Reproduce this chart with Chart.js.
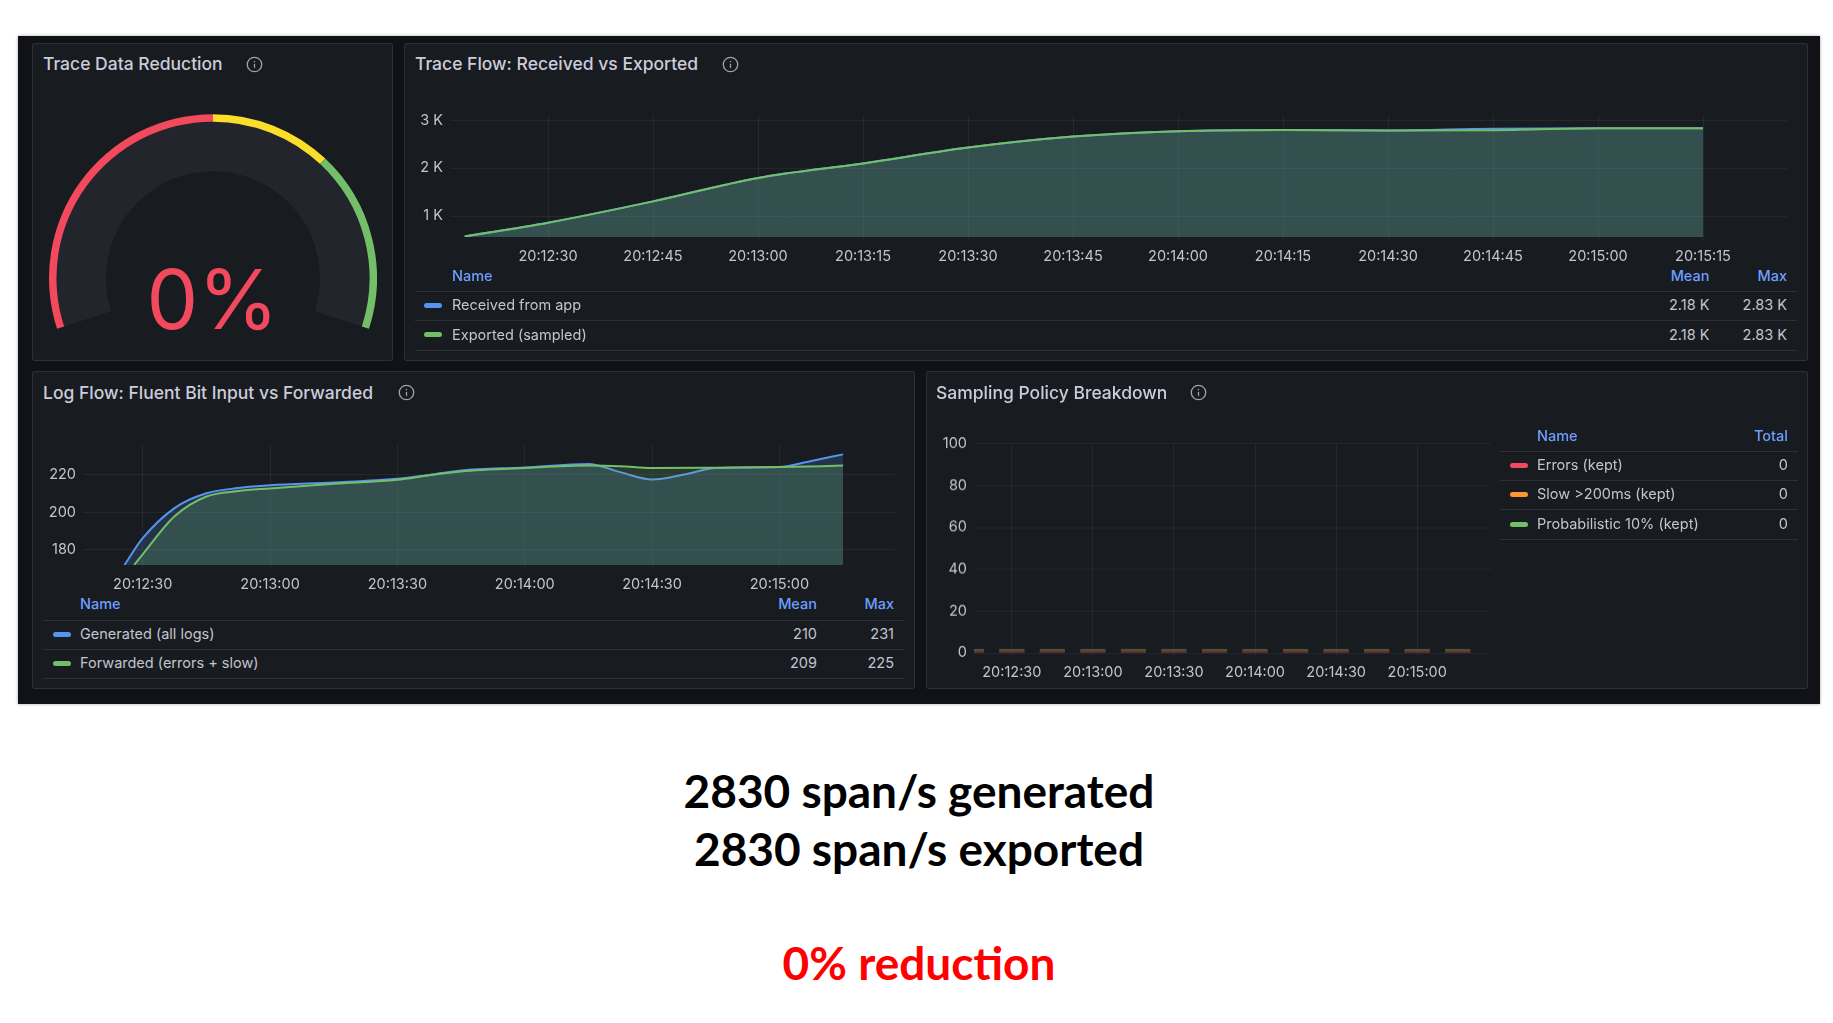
<!DOCTYPE html>
<html>
<head>
<meta charset="utf-8">
<title>Collector dashboard</title>
<script src="https://cdn.jsdelivr.net/npm/chart.js@4/dist/chart.umd.min.js"></script>
<style>
	html, body { margin: 0; padding: 0; background: #fff; width: 1833px; height: 1023px; overflow: hidden; }
	body { position: relative; font-family: Inter, "Noto Sans", sans-serif; }
	.board { position: absolute; left: 18px; top: 36px; width: 1802px; height: 668px; background: #111217; box-shadow: 0 0 3px rgba(0, 0, 0, .35); }
	.panel { position: absolute; box-sizing: border-box; background: #181b1f; border: 1px solid rgba(204, 204, 220, .12); border-radius: 3px; }
	.title { position: absolute; color: #ccccdc; font-size: 17.5px; font-weight: 500; line-height: 20px; white-space: nowrap; }
	.info { position: absolute; width: 17px; height: 17px; }
	canvas { position: absolute; }
	.legend-head, .legend-cell { position: absolute; font-size: 14.5px; line-height: 18px; white-space: nowrap; }
	.legend-head { color: #6e9fff; font-weight: 500; }
	.legend-cell { color: #c4c4d0; }
	.legend-rule { position: absolute; height: 1px; background: rgba(204, 204, 220, .12); }
	.legend-key { position: absolute; height: 5px; width: 18px; border-radius: 3px; }
	.gauge-value { position: absolute; left: 32px; width: 361px; top: 250px; text-align: center; color: #f2495c; font-size: 82px; line-height: 100px; }
	.caption { position: absolute; left: 0; width: 1838px; text-align: center; font-family: Lato, sans-serif; font-weight: 700; font-size: 46px; line-height: 56px; color: #000; }
</style>
</head>
<body>
<div class="board"></div>
<div id="panels"></div>
<div class="caption" id="caption-generated" style="top: 763px;"></div>
<div class="caption" id="caption-exported" style="top: 821px;"></div>
<div class="caption" id="caption-reduction" style="top: 935px; color: #ff0000;"></div>

<script>
// Series, seconds are counted from 20:12:30.
var traceSeconds = [ -11.9, 0, 15, 30, 45, 60, 75, 90, 105, 120, 135, 150, 165 ];
var traceReceived = [ 575, 860, 1305, 1794, 2098, 2428, 2657, 2771, 2797, 2784, 2822, 2830, 2830 ];
var traceExported = [ 575, 860, 1305, 1794, 2098, 2428, 2657, 2771, 2797, 2784, 2790, 2830, 2830 ];
var traceTickSeconds = [ 0, 15, 30, 45, 60, 75, 90, 105, 120, 135, 150, 165 ];
var traceTickLabels = [ '20:12:30', '20:12:45', '20:13:00', '20:13:15', '20:13:30', '20:13:45', '20:14:00', '20:14:15', '20:14:30', '20:14:45', '20:15:00', '20:15:15' ];
var traceYTicks = [ 1000, 2000, 3000 ];
var traceYLabels = [ '1 K', '2 K', '3 K' ];

var logGeneratedSeconds = [ -4.3, 0, 7.5, 15, 22.5, 30, 45, 60, 67.5, 75, 90, 105, 112.5, 120, 127.5, 135, 150, 157.5, 165 ];
var logGenerated = [ 171.9, 186.2, 202.3, 210.2, 213, 214.5, 216, 218, 220, 222.4, 224, 225.9, 221.5, 217.6, 220.2, 223.7, 224.2, 227.5, 231 ];
var logForwardedSeconds = [ -2, 0, 7.5, 15, 22.5, 30, 45, 60, 67.5, 75, 90, 105, 112.5, 120, 135, 150, 165 ];
var logForwarded = [ 172, 177.6, 197.9, 208.5, 211.4, 212.8, 215.3, 217.4, 219.8, 221.8, 223.7, 225, 224.7, 223.7, 223.9, 224.2, 225 ];
var logTickSeconds = [ 0, 30, 60, 90, 120, 150 ];
var logTickLabels = [ '20:12:30', '20:13:00', '20:13:30', '20:14:00', '20:14:30', '20:15:00' ];
var logYTicks = [ 180, 200, 220 ];

var samplingSeconds = [ -15, 0, 15, 30, 45, 60, 75, 90, 105, 120, 135, 150, 165 ];
var samplingErrors = [ 0, 0, 0, 0, 0, 0, 0, 0, 0, 0, 0, 0, 0 ];
var samplingSlow = [ 0, 0, 0, 0, 0, 0, 0, 0, 0, 0, 0, 0, 0 ];
var samplingProbabilistic = [ 0, 0, 0, 0, 0, 0, 0, 0, 0, 0, 0, 0, 0 ];
var samplingYTicks = [ 0, 20, 40, 60, 80, 100 ];

var gaugeValue = 0;
var gaugeSteps = [ 50, 20, 30 ];
var gaugeStepColors = [ '#f2495c', '#fade2a', '#73bf69' ];

var spansGenerated = 2830;
var spansExported = 2830;
var spansReduction = 0;

( function() {
	'use strict';

	var BLUE = '#5794f2';
	var GREEN = '#73bf69';
	var RED = '#f2495c';
	var ORANGE = '#ff9830';
	var GRID = 'rgba(204, 204, 220, .07)';
	var TICK_TEXT = '#c4c4d0';
	var AXIS_WIDTH = 70;
	var AXIS_HEIGHT = 30;
	var CHART_FONT = { family: 'Inter', size: 14.5 };

	var host = document.getElementById( 'panels' );

	function add( className, css, text ) {
		var el = document.createElement( 'div' );
		el.className = className;
		Object.keys( css ).forEach( function( key ) {
			el.style[ key ] = typeof css[ key ] === 'number' ? css[ key ] + 'px' : css[ key ];
		} );
		if ( text !== undefined ) {
			el.textContent = text;
		}
		host.appendChild( el );
		return el;
	}

	function addPanel( box, title, titleX, titleY, iconX ) {
		add( 'panel', { left: box[ 0 ], top: box[ 1 ], width: box[ 2 ], height: box[ 3 ] } );
		add( 'title', { left: titleX, top: titleY - 10 }, title );
		var icon = add( 'info', { left: iconX - 8.5, top: titleY - 8.5 } );
		icon.innerHTML = '<svg width="17" height="17" viewBox="0 0 17 17" fill="none" stroke="#a0a2ad" stroke-width="1.3">' +
			'<circle cx="8.5" cy="8.5" r="7.2"/><path d="M8.5 7.8v4"/><path d="M8.5 5v1.2"/></svg>';
	}

	function addLegend( legend ) {
		legend.heads.forEach( function( head ) {
			var css = { top: legend.headY - 9 };
			if ( head.left !== undefined ) {
				css.left = head.left;
			} else {
				css.right = 1833 - head.right;
			}
			add( 'legend-head', css, head.text );
		} );
		add( 'legend-rule', { left: legend.left, top: legend.rules[ 0 ], width: legend.width } );
		legend.rows.forEach( function( row, i ) {
			var y = ( legend.rules[ i ] + legend.rules[ i + 1 ] ) / 2;
			add( 'legend-key', { left: legend.keyX, top: y - 2.5, background: row.color } );
			add( 'legend-cell', { left: legend.nameX, top: y - 9 }, row.name );
			row.values.forEach( function( value, v ) {
				add( 'legend-cell', { right: 1833 - legend.valueRights[ v ], top: y - 9 }, value );
			} );
			add( 'legend-rule', { left: legend.left, top: legend.rules[ i + 1 ], width: legend.width } );
		} );
	}

	function pairs( xs, ys ) {
		return xs.map( function( x, i ) {
			return { x: x, y: ys[ i ] };
		} );
	}

	function areaSeries( label, xs, ys, color, fill, order ) {
		return {
			label: label,
			data: pairs( xs, ys ),
			borderColor: color,
			backgroundColor: fill,
			borderWidth: 2,
			fill: 'start',
			pointRadius: 0,
			cubicInterpolationMode: 'monotone',
			order: order
		};
	}

	function barSeries( label, values, color ) {
		return {
			label: label,
			data: pairs( samplingSeconds, values ),
			backgroundColor: color,
			barThickness: 24.5,
			minBarLength: 1.5
		};
	}

	// Places a cartesian chart so that its plot area sits on the given page rectangle.
	function addChart( type, plot, xRange, yRange, xTicks, xLabels, yTicks, yLabels, datasets ) {
		var canvas = document.createElement( 'canvas' );
		var left = plot.left - AXIS_WIDTH;
		var right = plot.right + 40;
		var top = plot.top - 4;
		canvas.style.left = left + 'px';
		canvas.style.top = top + 'px';
		canvas.style.width = ( right - left ) + 'px';
		canvas.style.height = ( plot.bottom - top + AXIS_HEIGHT ) + 'px';
		canvas.width = right - left;
		canvas.height = plot.bottom - top + AXIS_HEIGHT;
		host.appendChild( canvas );

		return new Chart( canvas, {
			type: type,
			data: { datasets: datasets },
			options: {
				responsive: false,
				animation: false,
				layout: { padding: { top: 4, right: 40, left: 0, bottom: 0 } },
				plugins: { legend: { display: false }, tooltip: { enabled: false } },
				scales: {
					x: {
						type: 'linear',
						min: xRange[ 0 ],
						max: xRange[ 1 ],
						offset: false,
						stacked: type === 'bar',
						border: { display: false },
						grid: { color: GRID, tickLength: 4, offset: false },
						ticks: {
							color: TICK_TEXT,
							font: CHART_FONT,
							padding: plot.xPad,
							autoSkip: false,
							maxRotation: 0,
							includeBounds: false,
							callback: function( value ) {
								return xLabels[ xTicks.indexOf( value ) ];
							}
						},
						afterBuildTicks: function( scale ) {
							scale.ticks = xTicks.map( function( value ) {
								return { value: value };
							} );
						},
						afterFit: function( scale ) {
							scale.height = AXIS_HEIGHT;
						}
					},
					y: {
						min: yRange[ 0 ],
						max: yRange[ 1 ],
						stacked: type === 'bar',
						border: { display: false },
						grid: { color: GRID, drawTicks: false },
						ticks: {
							color: TICK_TEXT,
							font: CHART_FONT,
							padding: plot.yPad,
							callback: function( value ) {
								var index = yTicks.indexOf( value );
								return yLabels ? yLabels[ index ] : yTicks[ index ];
							}
						},
						afterBuildTicks: function( scale ) {
							scale.ticks = yTicks.map( function( value ) {
								return { value: value };
							} );
						},
						afterFit: function( scale ) {
							scale.width = AXIS_WIDTH;
						}
					}
				}
			}
		} );
	}

	function addGauge() {
		var canvas = document.createElement( 'canvas' );
		canvas.style.left = '49px';
		canvas.style.top = '114px';
		canvas.style.width = '328px';
		canvas.style.height = '215px';
		canvas.width = 328;
		canvas.height = 215;
		host.appendChild( canvas );

		new Chart( canvas, {
			type: 'doughnut',
			data: {
				datasets: [
					{
						data: gaugeSteps,
						backgroundColor: gaugeStepColors,
						borderWidth: 0,
						weight: 7.5
					},
					{
						data: [ gaugeValue, 100 - gaugeValue ],
						backgroundColor: [ RED, '#22252b' ],
						borderWidth: 0,
						weight: 49.5
					}
				]
			},
			options: {
				responsive: false,
				animation: false,
				rotation: -108,
				circumference: 216,
				cutout: '65.2%',
				layout: { padding: 0 },
				plugins: { legend: { display: false }, tooltip: { enabled: false } }
			}
		} );
	}

	// Trace Data Reduction
	addPanel( [ 32, 43, 361, 318 ], 'Trace Data Reduction', 43, 64, 254 );
	addGauge();
	add( 'gauge-value', {}, gaugeValue + '%' );

	// Trace Flow
	addPanel( [ 404, 43, 1404, 318 ], 'Trace Flow: Received vs Exported', 415, 64, 730 );
	addChart(
		'line',
		{ left: 450, right: 1787, top: 103, bottom: 237, xPad: 7, yPad: 7 },
		[ ( 450 - 548 ) / 7, ( 1787 - 548 ) / 7 ],
		[ 562, 3114 ],
		traceTickSeconds,
		traceTickLabels,
		traceYTicks,
		traceYLabels,
		[
			areaSeries( 'Received from app', traceSeconds, traceReceived, BLUE, 'rgba(87, 148, 242, .2)', 1 ),
			areaSeries( 'Exported (sampled)', traceSeconds, traceExported, GREEN, 'rgba(115, 191, 105, .2)', 0 )
		]
	);
	addLegend( {
		heads: [ { text: 'Name', left: 452 }, { text: 'Mean', right: 1709.5 }, { text: 'Max', right: 1787 } ],
		headY: 276,
		left: 415,
		width: 1382,
		rules: [ 290.5, 320, 349.5 ],
		keyX: 424,
		nameX: 452,
		valueRights: [ 1709.5, 1787 ],
		rows: [
			{ color: BLUE, name: 'Received from app', values: [ '2.18 K', '2.83 K' ] },
			{ color: GREEN, name: 'Exported (sampled)', values: [ '2.18 K', '2.83 K' ] }
		]
	} );

	// Log Flow
	addPanel( [ 32, 371, 883, 318 ], 'Log Flow: Fluent Bit Input vs Forwarded', 43, 392.5, 406 );
	addChart(
		'line',
		{ left: 83, right: 895, top: 432, bottom: 565, xPad: 7, yPad: 7 },
		[ ( 83 - 142.7 ) / 4.245, ( 895 - 142.7 ) / 4.245 ],
		[ 171.9, 236.7 ],
		logTickSeconds,
		logTickLabels,
		logYTicks,
		null,
		[
			areaSeries( 'Generated (all logs)', logGeneratedSeconds, logGenerated, BLUE, 'rgba(87, 148, 242, .2)', 1 ),
			areaSeries( 'Forwarded (errors + slow)', logForwardedSeconds, logForwarded, GREEN, 'rgba(115, 191, 105, .2)', 0 )
		]
	);
	addLegend( {
		heads: [ { text: 'Name', left: 80 }, { text: 'Mean', right: 817 }, { text: 'Max', right: 894 } ],
		headY: 604,
		left: 43,
		width: 861,
		rules: [ 619.5, 648.5, 677.5 ],
		keyX: 53,
		nameX: 80,
		valueRights: [ 817, 894 ],
		rows: [
			{ color: BLUE, name: 'Generated (all logs)', values: [ '210', '231' ] },
			{ color: GREEN, name: 'Forwarded (errors + slow)', values: [ '209', '225' ] }
		]
	} );

	// Sampling Policy Breakdown
	addPanel( [ 926, 371, 882, 318 ], 'Sampling Policy Breakdown', 936, 392.5, 1198 );
	addChart(
		'bar',
		{ left: 973.5, right: 1491, top: 432, bottom: 652.5, xPad: 7, yPad: 7 },
		[ -14, 177.3 ],
		[ 0, 100 ],
		logTickSeconds,
		logTickLabels,
		samplingYTicks,
		null,
		[
			barSeries( 'Errors (kept)', samplingErrors, '#6b2a34' ),
			barSeries( 'Slow >200ms (kept)', samplingSlow, '#6b4a2a' ),
			barSeries( 'Probabilistic 10% (kept)', samplingProbabilistic, '#3a5a36' )
		]
	);
	addLegend( {
		heads: [ { text: 'Name', left: 1537 }, { text: 'Total', right: 1788 } ],
		headY: 436,
		left: 1500,
		width: 298,
		rules: [ 450.5, 479.5, 509, 539 ],
		keyX: 1510,
		nameX: 1537,
		valueRights: [ 1788 ],
		rows: [
			{ color: RED, name: 'Errors (kept)', values: [ '0' ] },
			{ color: ORANGE, name: 'Slow >200ms (kept)', values: [ '0' ] },
			{ color: GREEN, name: 'Probabilistic 10% (kept)', values: [ '0' ] }
		]
	} );

	document.getElementById( 'caption-generated' ).textContent = spansGenerated + ' span/s generated';
	document.getElementById( 'caption-exported' ).textContent = spansExported + ' span/s exported';
	document.getElementById( 'caption-reduction' ).textContent = spansReduction + '% reduction';
} )();
</script>
</body>
</html>
